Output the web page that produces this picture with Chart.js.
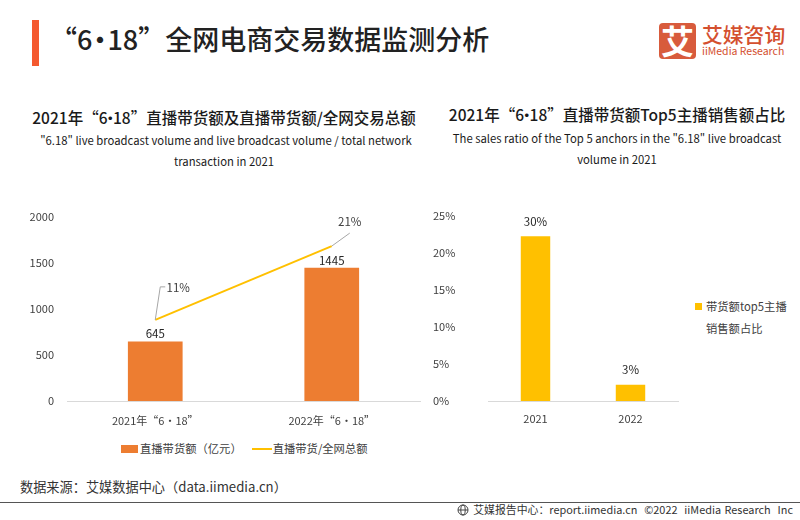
<!DOCTYPE html>
<html lang="zh">
<head>
  <meta charset="UTF-8" />
  <title>“6·18”全网电商交易数据监测分析</title>
  <script src="https://cdn.jsdelivr.net/npm/chart.js"></script>
  <style>
    html, body { margin: 0; padding: 0; background: #fff; }
    body { width: 800px; height: 520px; position: relative; overflow: hidden; font-family: "Noto Sans CJK SC", sans-serif; color: #1a1a1a; }
    .abs { position: absolute; white-space: nowrap; line-height: 1; }
    .center { transform: translateX(-50%); text-align: center; }
    canvas { position: absolute; }
    .legend { color: #404040; font-size: 11.3px; display: flex; align-items: center; }
    .dot { margin: 0 -5px; }
    .dot-big { margin: 0 -6px; }
  </style>
</head>
<body>
  <div class="abs" style="left:32px;top:20px;width:7px;height:46px;background:#f4592f"></div>
  <div class="abs" id="mainTitle" style="left:50px;top:25px;font-size:27px;font-weight:500;color:#222">“6<span class="dot-big">·</span>18”全网电商交易数据监测分析</div>

  <!-- logo -->
  <div class="abs" style="left:659px;top:23px;width:37px;height:36px;border-radius:4px;background:#d85b3c;color:#fff;font-size:33px;font-weight:700;text-align:center;line-height:35px">艾</div>
  <div class="abs" style="left:702px;top:24px;font-size:20.8px;font-weight:500;color:#d4502f">艾媒咨询</div>
  <div class="abs" style="left:702px;top:46px;font-size:10.5px;color:#d4502f">iiMedia Research</div>

  <!-- left heading -->
  <div class="abs center" style="left:224px;top:110px;font-size:15.5px;font-weight:500">2021年“6<span class="dot">·</span>18”直播带货额及直播带货额/全网交易总额</div>
  <div class="abs center" style="left:226px;top:135px;font-size:11.3px">"6.18" live broadcast volume and live broadcast volume / total network</div>
  <div class="abs center" style="left:224px;top:156px;font-size:11.3px">transaction in 2021</div>

  <!-- right heading -->
  <div class="abs center" style="left:617px;top:107px;font-size:15.5px;font-weight:500">2021年“6<span class="dot">·</span>18”直播带货额Top5主播销售额占比</div>
  <div class="abs center" style="left:617px;top:133px;font-size:11.3px">The sales ratio of the Top 5 anchors in the "6.18" live broadcast</div>
  <div class="abs center" style="left:617px;top:154px;font-size:11.3px">volume in 2021</div>

  <canvas id="salesChart" width="430" height="235" style="left:0;top:197px"></canvas>
  <canvas id="shareChart" width="250" height="232" style="left:433px;top:200px"></canvas>

  <!-- legends -->
  <div class="abs legend" style="left:121px;top:442px;height:13px">
    <span style="width:17px;height:8px;background:#ed7d31;margin-right:2px"></span><span id="legendBar"></span>
    <span style="width:20px;height:2px;background:#ffc000;margin:0 1px 0 10px"></span><span id="legendLine"></span>
  </div>
  <div class="abs" style="left:695px;top:303px;width:7px;height:7px;background:#ffc000"></div>
  <div class="abs legend" id="legendShare1" style="left:706px;top:301px"></div>
  <div class="abs legend" id="legendShare2" style="left:706px;top:323px"></div>

  <div class="abs" style="left:20px;top:480px;font-size:13.2px;color:#333">数据来源：艾媒数据中心（data.iimedia.cn）</div>
  <div class="abs" style="left:0;top:502px;width:800px;height:1px;background:#555"></div>
  <svg class="abs" style="left:457px;top:504px" width="12" height="12" viewBox="0 0 12 12" fill="none" stroke="#444" stroke-width="1">
    <circle cx="6" cy="6" r="5"></circle><ellipse cx="6" cy="6" rx="2.2" ry="5"></ellipse><path d="M1 6h10"></path>
  </svg>
  <div class="abs" style="right:7px;top:504px;font-size:10.9px;color:#333;word-spacing:1px">艾媒报告中心：report.iimedia.cn &nbsp;©2022 &nbsp;iiMedia Research &nbsp;Inc</div>

  <script>
    const salesYears = ["2021年“6·18”", "2022年“6·18”"];
    const salesValues = [645, 1445];
    const onlineShareValues = [11, 21];
    const onlineShareLabels = ["11%", "21%"];

    const shareYears = ["2021", "2022"];
    const top5Values = [22.2, 2.2];
    const top5Labels = ["30%", "3%"];

    const salesName = "直播带货额（亿元）";
    const lineName = "直播带货/全网总额";
    const top5Name = ["带货额top5主播", "销售额占比"];

    const tickFont = { family: '"Noto Sans CJK SC", sans-serif', size: 11 };
    const tickColor = "#404040";

    document.getElementById("legendBar").textContent = salesName;
    document.getElementById("legendLine").textContent = lineName;
    document.getElementById("legendShare1").textContent = top5Name[0];
    document.getElementById("legendShare2").textContent = top5Name[1];

    // numbers above the bars
    function barLabels(datasetIndex, texts, gap) {
      return {
        id: "barLabels",
        afterDatasetsDraw(chart) {
          const ctx = chart.ctx;
          ctx.save();
          ctx.font = '11.5px "Noto Sans CJK SC", sans-serif';
          ctx.fillStyle = "#262626";
          ctx.textAlign = "center";
          ctx.textBaseline = "middle";
          chart.getDatasetMeta(datasetIndex).data.forEach((bar, i) => {
            ctx.fillText(texts[i], bar.x, bar.y - gap);
          });
          ctx.restore();
        }
      };
    }

    // grey leader lines from the line ends to their labels
    const lineLeaders = {
      id: "lineLeaders",
      afterDatasetsDraw(chart) {
        const ctx = chart.ctx;
        const pts = chart.getDatasetMeta(1).data;
        ctx.save();
        ctx.strokeStyle = "#a6a6a6";
        ctx.lineWidth = 1;
        ctx.beginPath();
        ctx.moveTo(pts[0].x, pts[0].y);
        ctx.lineTo(pts[0].x + 5, pts[0].y - 33);
        ctx.lineTo(pts[0].x + 10, pts[0].y - 33);
        ctx.moveTo(pts[1].x, pts[1].y);
        ctx.lineTo(pts[1].x + 18, pts[1].y - 13);
        ctx.stroke();
        ctx.font = '11.5px "Noto Sans CJK SC", sans-serif';
        ctx.fillStyle = "#404040";
        ctx.textAlign = "center";
        ctx.textBaseline = "middle";
        ctx.fillText(onlineShareLabels[0], pts[0].x + 23, pts[0].y - 32);
        ctx.fillText(onlineShareLabels[1], pts[1].x + 18, pts[1].y - 24);
        ctx.restore();
      }
    };

    new Chart(document.getElementById("salesChart"), {
      type: "bar",
      data: {
        labels: salesYears,
        datasets: [
          { label: salesName, data: salesValues, backgroundColor: "#ed7d31", barPercentage: 0.31, categoryPercentage: 1, order: 2 },
          { type: "line", label: lineName, data: onlineShareValues, yAxisID: "y1", borderColor: "#ffc000", borderWidth: 2, pointRadius: 0, tension: 0, order: 1 }
        ]
      },
      options: {
        responsive: false,
        animation: false,
        layout: { padding: { top: 12.5, right: 10, left: 0, bottom: 0 } },
        plugins: { legend: { display: false }, tooltip: { enabled: false } },
        scales: {
          x: {
            grid: { display: false },
            border: { color: "#d9d9d9", width: 1 },
            ticks: { font: tickFont, color: tickColor, padding: 5, maxRotation: 0 },
            afterFit(scale) { scale.height = 31; }
          },
          y: {
            min: 0,
            max: 2000,
            grid: { display: false, drawTicks: false },
            border: { display: false },
            ticks: { font: tickFont, color: tickColor, padding: 13, stepSize: 500, callback: v => String(v) },
            afterFit(scale) { scale.width = 67; }
          },
          y1: { display: false, min: 0, max: 25 }
        }
      },
      plugins: [barLabels(0, salesValues, 7.5), lineLeaders]
    });

    new Chart(document.getElementById("shareChart"), {
      type: "bar",
      data: {
        labels: shareYears,
        datasets: [
          { label: top5Name.join(""), data: top5Values, backgroundColor: "#ffc000", barPercentage: 0.31, categoryPercentage: 1 }
        ]
      },
      options: {
        responsive: false,
        animation: false,
        layout: { padding: { top: 15.5, right: 5, left: 0, bottom: 0 } },
        plugins: { legend: { display: false }, tooltip: { enabled: false } },
        scales: {
          x: {
            grid: { display: false },
            border: { color: "#d9d9d9", width: 1 },
            ticks: { font: tickFont, color: tickColor, padding: 3 },
            afterFit(scale) { scale.height = 31; }
          },
          y: {
            min: 0,
            max: 25,
            grid: { display: false, drawTicks: false },
            border: { display: false },
            ticks: { font: tickFont, color: tickColor, stepSize: 5, crossAlign: "far", callback: v => v + "%" },
            afterFit(scale) { scale.width = 55; }
          }
        }
      },
      plugins: [barLabels(0, top5Labels, 15)]
    });
  </script>
</body>
</html>
